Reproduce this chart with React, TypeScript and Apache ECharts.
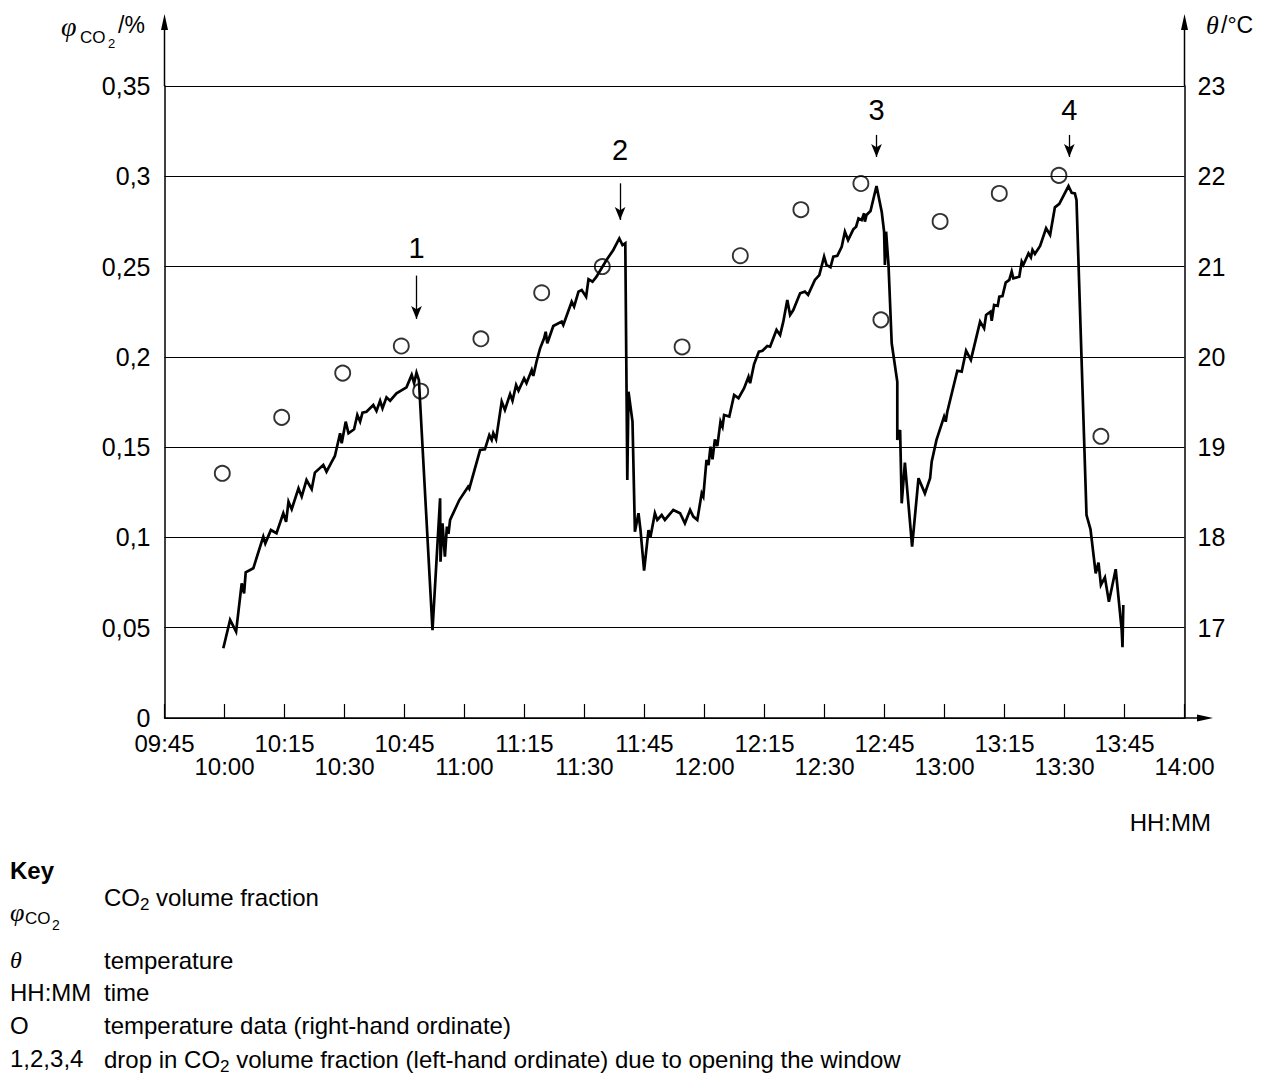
import React, { useEffect, useRef } from 'react';
import * as echarts from 'echarts';

// ---------- data ----------
// time axis: minutes after 09:45 (09:45 .. 14:00)
const xTickLabels = [
  '09:45', '10:00', '10:15', '10:30', '10:45', '11:00', '11:15', '11:30', '11:45',
  '12:00', '12:15', '12:30', '12:45', '13:00', '13:15', '13:30', '13:45', '14:00',
];
const leftTickLabels = ['0', '0,05', '0,1', '0,15', '0,2', '0,25', '0,3', '0,35'];
const rightTickLabels = ['', '17', '18', '19', '20', '21', '22', '23'];

// CO2 volume fraction (%) – minutes after 09:45
const co2Minutes = [
  14.7, 16.4, 17.9, 19.3, 19.9, 20.3, 22.2, 24.7, 25.2, 26.6, 28.0, 29.7, 30.4, 31.0, 31.8,
  33.5, 34.3, 35.5, 36.8, 37.6, 39.7, 40.5, 41.6, 42.6, 43.9, 44.3, 45.3, 46.0, 47.4, 48.2,
  48.9, 49.5, 50.5, 52.2, 53.0, 53.9, 54.5, 55.5, 56.4, 58.0, 60.5, 61.8, 62.4, 63.0, 63.6,
  67.0, 68.9, 69.0, 69.5, 70.1, 70.6, 71.0, 71.4, 73.7, 75.9, 76.2, 78.9, 80.1, 81.2, 81.8,
  82.2, 82.9, 84.3, 85.1, 86.4, 87.0, 87.9, 88.5, 89.9, 90.5, 91.8, 92.2, 93.0, 93.9, 94.9,
  95.3, 95.7, 97.2, 99.3, 99.7, 101.8, 102.4, 103.5, 104.3, 105.4, 106.0, 107.0, 108.0, 110.5, 112.2,
  113.7, 114.5, 115.2, 115.7, 116.0, 117.0, 117.6, 118.5, 119.0, 119.9, 121.0, 121.5, 122.6, 123.2, 124.3,
  125.1, 127.2, 128.9, 130.1, 131.4, 132.2, 133.2, 134.3, 134.7, 135.5, 136.0, 136.5, 137.0, 137.6, 138.2,
  139.0, 139.5, 139.9, 141.2, 142.4, 143.5, 144.9, 146.0, 146.4, 147.4, 148.6, 149.5, 150.7, 151.4, 153.0,
  153.9, 154.7, 155.7, 156.4, 157.2, 158.9, 160.1, 160.9, 162.6, 163.7, 164.9, 165.5, 166.5, 167.2, 168.2,
  169.3, 170.1, 170.9, 172.2, 172.9, 173.5, 174.3, 174.9, 175.1, 175.5, 176.5, 178.0, 179.3, 179.9, 180.1,
  180.4, 181.0, 181.8, 183.2, 183.2, 183.9, 184.3, 185.1, 186.9, 188.5, 190.1, 191.4, 191.8, 193.0, 194.9,
  195.3, 195.7, 198.2, 199.3, 200.4, 201.6, 203.9, 204.9, 205.4, 206.5, 206.8, 207.4, 208.3, 208.7, 209.5,
  210.3, 211.2, 211.8, 212.2, 213.7, 214.3, 214.7, 216.0, 216.6, 217.0, 217.6, 218.9, 220.4, 221.4, 222.6,
  223.7, 226.0, 226.8, 227.6, 228.0, 230.5, 231.5, 232.8, 233.5, 234.1, 235.1, 236.1, 237.8, 239.3, 239.5,
  239.7,
];
const co2Values = [
  0.0386, 0.0543, 0.0478, 0.0746, 0.069, 0.0807, 0.0829, 0.1004, 0.0967, 0.1041, 0.1023, 0.1134, 0.1087, 0.1198, 0.1156,
  0.1272, 0.1226, 0.1318, 0.1267, 0.1359, 0.1401, 0.1364, 0.141, 0.1451, 0.1577, 0.1521, 0.1641, 0.1577, 0.1599, 0.1678,
  0.1641, 0.1691, 0.1696, 0.1733, 0.17, 0.1757, 0.1715, 0.1776, 0.1757, 0.1798, 0.1831, 0.19, 0.1854, 0.1912, 0.1872,
  0.0487, 0.1217, 0.0866, 0.1078, 0.0893, 0.106, 0.102, 0.1097, 0.1207, 0.1281, 0.127, 0.1484, 0.1488, 0.1567, 0.154,
  0.1577, 0.1543, 0.1752, 0.1706, 0.1794, 0.1757, 0.1844, 0.1813, 0.1881, 0.1854, 0.1927, 0.1894, 0.1973, 0.2047, 0.2103,
  0.2139, 0.2075, 0.2171, 0.2195, 0.2176, 0.2305, 0.2278, 0.2361, 0.237, 0.2333, 0.243, 0.2416, 0.2444, 0.2536, 0.2592,
  0.2656, 0.2619, 0.2629, 0.1318, 0.1807, 0.1641, 0.1032, 0.1134, 0.1041, 0.0816, 0.1041, 0.1004, 0.1134, 0.1097, 0.1124,
  0.1097, 0.1152, 0.1134, 0.1078, 0.1152, 0.1115, 0.1097, 0.1244, 0.1226, 0.1429, 0.1401, 0.1503, 0.1433, 0.1543, 0.1506,
  0.1641, 0.1613, 0.1678, 0.1669, 0.1789, 0.1771, 0.1826, 0.189, 0.1854, 0.196, 0.2029, 0.2034, 0.206, 0.2056, 0.2149,
  0.2121, 0.2195, 0.2315, 0.2232, 0.2259, 0.2352, 0.2361, 0.2343, 0.2426, 0.2453, 0.2555, 0.2509, 0.2496, 0.2555, 0.2559,
  0.261, 0.2693, 0.2647, 0.2706, 0.2721, 0.2767, 0.2758, 0.2795, 0.2749, 0.2786, 0.2808, 0.2946, 0.2804, 0.2693, 0.2509,
  0.2693, 0.2509, 0.2075, 0.1862, 0.154, 0.1595, 0.1189, 0.1414, 0.0949, 0.1328, 0.1244, 0.1328, 0.142, 0.154, 0.1669,
  0.1641, 0.1696, 0.1923, 0.1918, 0.2034, 0.1983, 0.2195, 0.2158, 0.2232, 0.225, 0.22, 0.2287, 0.2282, 0.2333, 0.2337,
  0.2411, 0.2426, 0.2472, 0.2435, 0.2444, 0.2527, 0.2509, 0.2573, 0.2551, 0.2592, 0.257, 0.2614, 0.2712, 0.2675, 0.2828,
  0.2847, 0.2946, 0.2909, 0.2905, 0.2869, 0.1124, 0.1045, 0.0801, 0.086, 0.0737, 0.0779, 0.0644, 0.0824, 0.0487, 0.0392,
  0.0626,
];

// temperature (°C) – minutes after 09:45
const tempMinutes = [14.45, 29.3, 44.55, 59.2, 64.05, 79.1, 94.3, 109.45, 129.4, 143.95, 159.1, 174.1, 179.1, 193.9, 208.7, 223.6, 234.1];
const tempValues = [18.71, 19.33, 19.82, 20.12, 19.62, 20.2, 20.71, 21.0, 20.11, 21.12, 21.63, 21.92, 20.41, 21.5, 21.81, 22.01, 19.12];

// window openings (drops in CO2)
const dropLabels = ['1', '2', '3', '4'];
const dropMinutes = [63.0, 113.9, 178.0, 226.2];
const dropArrowTop = [0.245, 0.2961, 0.3229, 0.3229];
const dropArrowEnd = [0.221, 0.2758, 0.3107, 0.3107];
const dropLabelValue = [0.2603, 0.3146, 0.3367, 0.3367];

// ---------- layout ----------
const W = 1271;
const H = 1082;
const GL = 164.5;
const GR = 1184.5;
const GT = 86;
const GB = 718;
const SANS = '"Liberation Sans", Arial, sans-serif';
const SERIF = '"Liberation Serif", "Times New Roman", serif';

function txt(x: number, y: number, text: string, font: string, align = 'left', rich?: any) {
  const style: any = {
    x, y, text, font, fill: '#000',
    align, verticalAlign: 'middle', textAlign: align, textVerticalAlign: 'middle',
  };
  if (rich) style.rich = rich;
  return { type: 'text', silent: true, style };
}

const subRich = (size: number, subSize: number, lh: number) => ({
  a: { fontSize: size, fontFamily: SANS, color: '#000', lineHeight: lh, verticalAlign: 'middle' },
  s: { fontSize: subSize, fontFamily: SANS, color: '#000', lineHeight: subSize, verticalAlign: 'bottom' },
});

const xLabelStyle = { color: '#000', fontFamily: SANS, fontSize: 24, lineHeight: 24 };

export default function App() {
  const ref = useRef<HTMLDivElement>(null);
  useEffect(() => {
    const chart = echarts.init(ref.current!, null, { renderer: 'svg' });
    const co2Data = co2Minutes.map((m, i) => [m, co2Values[i]]);
    const tempData = tempMinutes.map((m, i) => [m, tempValues[i]]);
    const labelData = dropLabels.map((l, i) => ({ name: l, value: [dropMinutes[i], dropLabelValue[i]] }));
    const arrowData = dropLabels.map((_, i) => [
      { coord: [dropMinutes[i], dropArrowTop[i]] },
      { coord: [dropMinutes[i], dropArrowEnd[i]] },
    ]);

    const arrowUp = (x: number) => [
      { type: 'line', silent: true, shape: { x1: x, y1: GT, x2: x, y2: 26 }, style: { stroke: '#000', lineWidth: 1.5 } },
      { type: 'polygon', silent: true, shape: { points: [[x, 14], [x - 3.5, 30], [x + 3.5, 30]] }, style: { fill: '#000' } },
    ];

    const baseX = {
      type: 'value',
      min: 0,
      max: 255,
      interval: 15,
      position: 'bottom',
      splitLine: { show: false },
    };

    const option: any = {
      animation: false,
      backgroundColor: '#fff',
      grid: { left: GL, right: W - GR, top: GT, bottom: H - GB, containLabel: false },
      xAxis: [
        {
          ...baseX,
          axisLine: { show: true, onZero: false, lineStyle: { color: '#000', width: 1.5 } },
          axisTick: { show: true, inside: true, length: 14, lineStyle: { color: '#000', width: 1.2 } },
          axisLabel: {
            ...xLabelStyle,
            margin: 13,
            formatter: (v: number) => {
              const i = Math.round(v / 15);
              return i % 2 === 0 ? xTickLabels[i] ?? '' : '';
            },
          },
        },
        {
          ...baseX,
          axisLine: { show: false, onZero: false },
          axisTick: { show: false },
          axisLabel: {
            ...xLabelStyle,
            margin: 36,
            formatter: (v: number) => {
              const i = Math.round(v / 15);
              return i % 2 === 1 ? xTickLabels[i] ?? '' : '';
            },
          },
        },
      ],
      yAxis: [
        {
          type: 'value',
          min: 0,
          max: 0.35,
          interval: 0.05,
          position: 'left',
          axisLine: { show: true, onZero: false, lineStyle: { color: '#000', width: 1.5 } },
          axisTick: { show: false },
          splitLine: { show: true, lineStyle: { color: '#000', width: 1.2 } },
          axisLabel: {
            color: '#000', fontFamily: SANS, fontSize: 25, margin: 14,
            formatter: (v: number) => leftTickLabels[Math.round(v / 0.05)] ?? '',
          },
        },
        {
          type: 'value',
          min: 16,
          max: 23,
          interval: 1,
          position: 'right',
          axisLine: { show: true, onZero: false, lineStyle: { color: '#000', width: 1.5 } },
          axisTick: { show: false },
          splitLine: { show: false },
          axisLabel: {
            color: '#000', fontFamily: SANS, fontSize: 25, margin: 13,
            formatter: (v: number) => rightTickLabels[Math.round(v - 16)] ?? '',
          },
        },
      ],
      series: [
        {
          type: 'line',
          name: 'CO2',
          data: co2Data,
          xAxisIndex: 0,
          yAxisIndex: 0,
          symbol: 'none',
          lineStyle: { color: '#000', width: 2.7, join: 'miter' },
          silent: true,
          z: 3,
        },
        {
          type: 'scatter',
          name: 'temperature',
          data: tempData,
          xAxisIndex: 0,
          yAxisIndex: 1,
          symbol: 'circle',
          symbolSize: 15,
          itemStyle: { color: 'rgba(0,0,0,0)', borderColor: '#000', borderWidth: 1.9 },
          silent: true,
          z: 4,
        },
        {
          type: 'scatter',
          name: 'drops',
          data: labelData,
          xAxisIndex: 0,
          yAxisIndex: 0,
          symbolSize: 1,
          itemStyle: { color: 'rgba(0,0,0,0)' },
          label: {
            show: true, position: 'inside', formatter: '{b}',
            color: '#000', fontFamily: SANS, fontSize: 29,
            textBorderWidth: 0, textBorderColor: 'transparent', opacity: 1,
          },
          markLine: {
            silent: true,
            symbol: ['none', 'arrow'],
            symbolSize: [8, 13],
            label: { show: false },
            lineStyle: { color: '#000', width: 1.3, type: 'solid', opacity: 1 },
            data: arrowData,
          },
          silent: true,
          z: 5,
        },
      ],
      graphic: [
        ...arrowUp(GL),
        ...arrowUp(GR),
        { type: 'line', silent: true, shape: { x1: GR, y1: GB, x2: 1200, y2: GB }, style: { stroke: '#000', lineWidth: 1.5 } },
        { type: 'polygon', silent: true, shape: { points: [[1213, GB], [1197, GB - 3.5], [1197, GB + 3.5]] }, style: { fill: '#000' } },
        // left axis name
        txt(61, 26, 'φ', `italic 28px ${SERIF}`),
        txt(80, 37, 'CO', `17px ${SANS}`),
        txt(108, 43, '2', `13px ${SANS}`),
        txt(118, 25, '/%', `23px ${SANS}`),
        // right axis name
        txt(1206, 25, 'θ', `italic 26px ${SERIF}`),
        txt(1221, 25, '/°C', `23px ${SANS}`),
        // time unit
        txt(1211, 822, 'HH:MM', `24px ${SANS}`, 'right'),
        // key
        txt(10, 870, 'Key', `bold 24px ${SANS}`),
        txt(10, 912, 'φ', `italic 26px ${SERIF}`),
        txt(25, 918, 'CO', `17px ${SANS}`),
        txt(52, 925, '2', `14px ${SANS}`),
        txt(104, 897, '{a|CO}{s|2}{a| volume fraction}', `24px ${SANS}`, 'left', subRich(24, 17, 32)),
        txt(10, 960, 'θ', `italic 24px ${SERIF}`),
        txt(104, 960, 'temperature', `24px ${SANS}`),
        txt(10, 992, 'HH:MM', `24px ${SANS}`),
        txt(104, 992, 'time', `24px ${SANS}`),
        txt(10, 1025, 'O', `24px ${SANS}`),
        txt(104, 1025, 'temperature data (right-hand ordinate)', `24px ${SANS}`),
        txt(10, 1058, '1,2,3,4', `24px ${SANS}`),
        txt(104, 1059, '{a|drop in CO}{s|2}{a| volume fraction (left-hand ordinate) due to opening the window}', `24px ${SANS}`, 'left', subRich(24, 17, 32)),
      ],
    };
    chart.setOption(option);
    return () => chart.dispose();
  }, []);
  return (
    <div
      ref={ref}
      style={{ position: 'absolute', left: 0, top: 0, width: W, height: H, background: '#fff' }}
    />
  );
}
